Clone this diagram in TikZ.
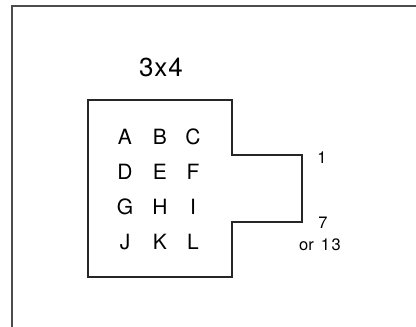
\documentclass[tikz,border=0pt]{standalone}
\usepackage{fontspec}
\setmainfont{TeX Gyre Heros}
\begin{document}
\begin{tikzpicture}[x=1pt,y=-1pt,
  letter/.style={font=\fontsize{21}{23}\selectfont,inner sep=0pt},
  titlefont/.style={font=\fontsize{26}{28}\selectfont,inner sep=0pt},
  pinlabel/.style={font=\fontsize{16.5}{18}\selectfont,inner sep=0pt},
  outline/.style={line width=2.4pt,line join=miter,black!85},
  frame/.style={line width=1.8pt,black!70}]
\useasboundingbox (0,0) rectangle (416,327);
\coordinate (fbl) at (12,327);
\coordinate (ftl) at (12,6);
\coordinate (ftr) at (416,6);
\draw[frame] (fbl) -- (ftl) -- (ftr);
\draw[outline] (88,100) -- (232,100) -- (232,155) -- (302,155) -- (302,222) -- (232,222) -- (232,277) -- (88,277) -- cycle;
\node[titlefont] (title) at (161,67) {3\kern1pt x\kern1pt 4};
\node[letter] (A) at (125,137) {A};
\node[letter] (B) at (160,137) {B};
\node[letter] (C) at (193,137) {C};
\node[letter] (D) at (125,172) {D};
\node[letter] (E) at (160,172) {E};
\node[letter] (F) at (193,172) {F};
\node[letter] (G) at (125,207) {G};
\node[letter] (H) at (160,207) {H};
\node[letter] (I) at (193,207) {I};
\node[letter] (J) at (125,242) {J};
\node[letter] (K) at (160,242) {K};
\node[letter] (L) at (193,242) {L};
\node[pinlabel] (p1) at (322,158) {1};
\node[pinlabel] (p7) at (323,223) {7};
\node[pinlabel] (p13) at (320,245) {or\hspace{7pt}1\kern1.5pt 3};
\end{tikzpicture}
\end{document}
